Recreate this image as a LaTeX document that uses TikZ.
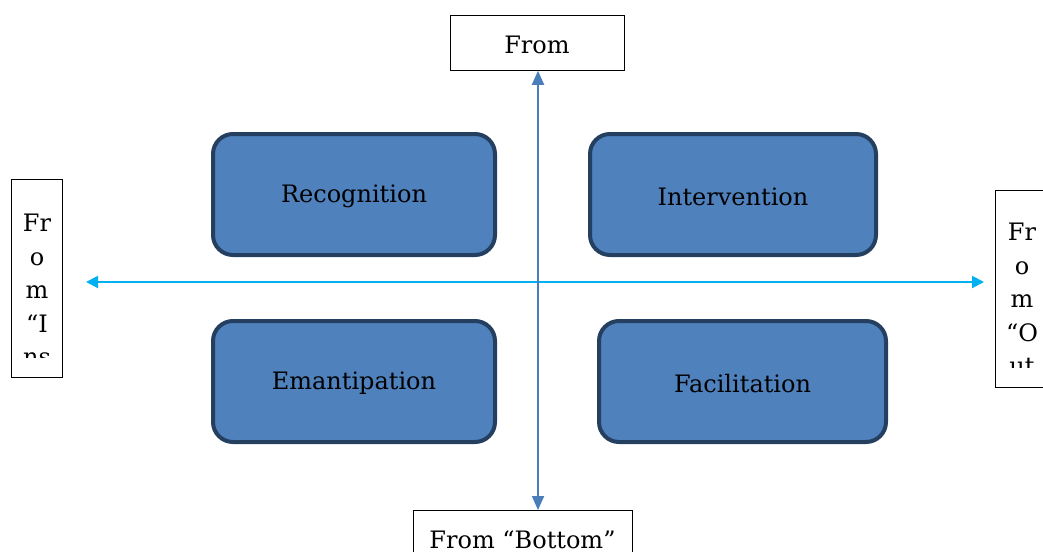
\documentclass[tikz,border=0pt]{standalone}
\usepackage{fontspec}
\setmainfont{DejaVu Serif}
\usetikzlibrary{arrows.meta}
\definecolor{boxfill}{HTML}{4F81BD}
\definecolor{boxline}{HTML}{243F60}
\definecolor{harrow}{HTML}{00B0F0}
\definecolor{varrow}{HTML}{4A7EBB}
\tikzset{
  quad/.style={draw=boxline, line width=4pt, fill=boxfill, rounded corners=20pt, anchor=north west, inner sep=0pt},
  label box/.style={draw=black, line width=0.8pt, fill=white},
  lbl/.style={font=\fontsize{24}{28}\selectfont, text=black, inner sep=0pt},
  vlbl/.style={font=\fontsize{24}{33.5}\selectfont, text=black, inner sep=0pt, align=center, anchor=north},
}
\begin{document}
\begin{tikzpicture}[x=1pt,y=-1pt]
\useasboundingbox (0,0) rectangle (1043,551);
\clip (0,0) rectangle (1043,551);
% label boxes
\node[label box, minimum width=174pt, minimum height=55pt, anchor=north west] (top) at (450,15) {};
\node[lbl] (toptext) at (537,45) {From};
\node[label box, minimum width=219pt, minimum height=60pt, anchor=north west] (bot) at (413,510) {};
\begin{scope}
\clip (414,511) rectangle (631,551);
\node[lbl] (bottext) at (522.5,540) {From “Bottom”};
\end{scope}
\node[label box, minimum width=51pt, minimum height=198pt, anchor=north west] (left) at (11,179) {};
\begin{scope}
\clip (12,180) rectangle (61,357);
\node[vlbl] (lefttext) at (37,214) {Fr\\o\\m\\“I\\ns};
\end{scope}
\node[label box, minimum width=60pt, minimum height=197pt, anchor=north west] (right) at (995,190) {};
\begin{scope}
\clip (996,191) rectangle (1043,367);
\node[vlbl] (righttext) at (1022,223) {Fr\\o\\m\\“O\\ut};
\end{scope}
% quadrant boxes
\node[quad, minimum width=282pt, minimum height=121pt] (rec) at (211,132) {};
\node[lbl] at ([yshift=-2pt]rec.center) {Recognition};
\node[quad, minimum width=286pt, minimum height=121pt] (int) at (588,132) {};
\node[lbl] at ([yshift=-2pt]int.center) {Intervention};
\node[quad, minimum width=282pt, minimum height=121pt] (ema) at (211,319) {};
\node[lbl] at ([yshift=-2pt]ema.center) {Emantipation};
\node[quad, minimum width=287pt, minimum height=121pt] (fac) at (597,319) {};
\node[lbl] at ([yshift=-2pt]fac.center) {Facilitation};
% axes
\coordinate (hl) at (86,282);
\coordinate (hr) at (984,282);
\draw[harrow, line width=2pt, {Triangle[length=12pt,width=12pt]}-{Triangle[length=12pt,width=12pt]}] (hl) -- (hr);
\coordinate (vt) at (538,70.5);
\coordinate (vb) at (538,509);
\draw[varrow, line width=2pt, {Triangle[length=14pt,width=12pt]}-{Triangle[length=14pt,width=12pt]}] (top.south -| vt) -- (bot.north -| vb);
\end{tikzpicture}
\end{document}
